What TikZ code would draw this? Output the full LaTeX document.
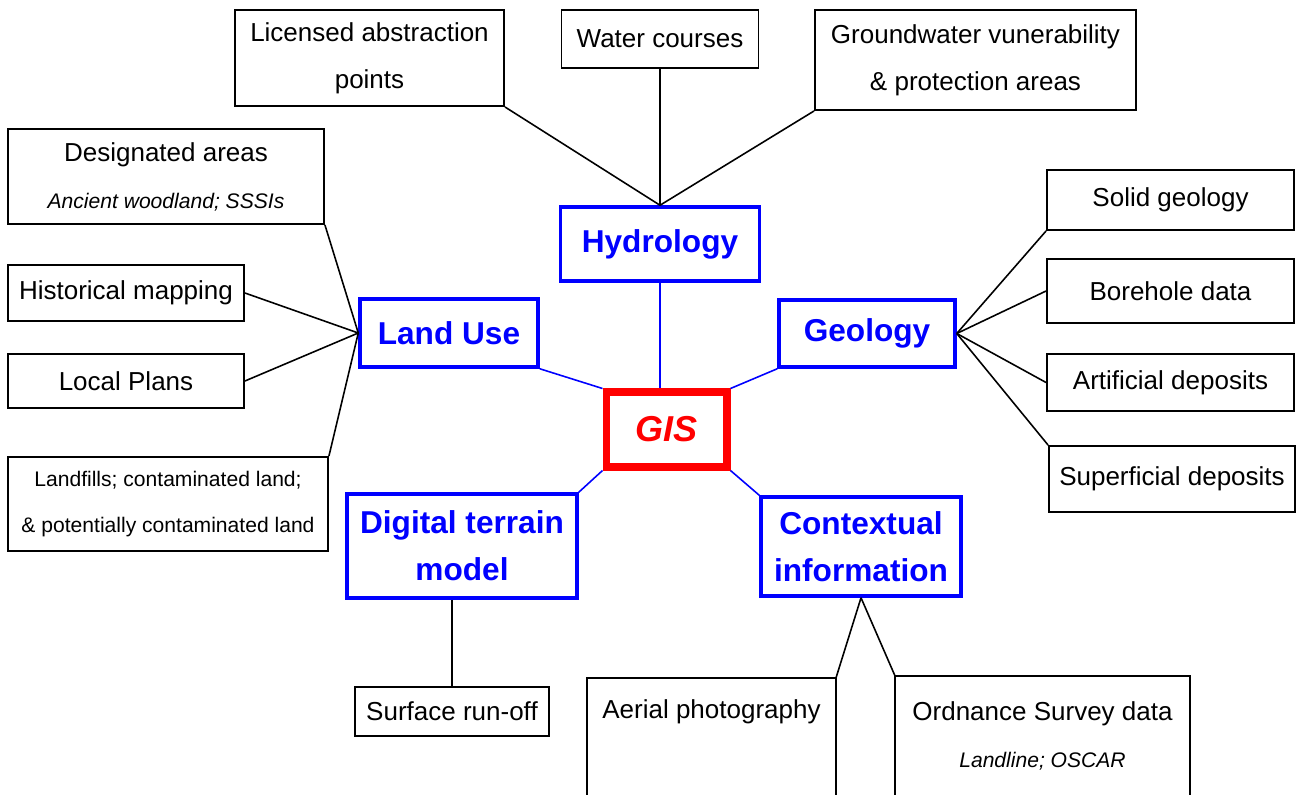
\documentclass[tikz,border=0pt]{standalone}
\usepackage{fontspec}
\setmainfont{Liberation Sans}
\newcommand{\subnote}[1]{{\fontsize{12}{26.7}\selectfont\itshape #1}}
\tikzset{
  leaf/.style={draw=black, line width=1.1pt, align=center, inner sep=0pt, font=\fontsize{14.8}{26.7}\selectfont},
  topic/.style={draw=blue, line width=2pt, text=blue, align=center, inner sep=0pt, font=\bfseries\fontsize{18}{26.7}\selectfont},
  hub/.style={draw=red, line width=4pt, text=red, inner sep=0pt, font=\bfseries\itshape\fontsize{20.5}{24}\selectfont},
  twig/.style={draw=black, line width=0.9pt},
  stem/.style={draw=blue, line width=0.9pt}
}
\begin{document}
\begin{tikzpicture}[x=0.02cm,y=-0.02cm]
\path[use as bounding box, clip] (0,0) rectangle (1297,794);
\coordinate (foot) at (0,800);
\node (gis) [hub, minimum width=2.42cm, minimum height=1.5cm] at (666.5,429.5) {GIS};
\node (hyd) [topic, minimum width=3.98cm, minimum height=1.48cm] at (660,244) {Hydrology};
\node (land) [topic, minimum width=3.56cm, minimum height=1.36cm] at (449,333) {Land Use};
\node (geo) [topic, minimum width=3.52cm, minimum height=1.34cm] at (867,333.5) {Geology};
\node (dtm) [topic, minimum width=4.6cm, minimum height=2.08cm] at (462,546) {Digital terrain\\model};
\node (ctx) [topic, minimum width=4cm, minimum height=1.98cm] at (861,546.5) {Contextual\\information};
\node (lic) [leaf, minimum width=5.38cm, minimum height=1.92cm] at (369.5,58) {Licensed abstraction\\points};
\node (water) [leaf, minimum width=3.94cm, minimum height=1.16cm] at (660,39) {Water courses};
\node (gw) [leaf, minimum width=6.42cm, minimum height=2cm] at (975.5,60) {Groundwater vunerability\\\& protection areas};
\node (des) [leaf, minimum width=6.32cm, minimum height=1.9cm] at (166,176.5) {Designated areas\\\subnote{Ancient woodland; SSSIs}};
\node (hist) [leaf, minimum width=4.72cm, minimum height=1.12cm] at (126,293) {Historical mapping};
\node (local) [leaf, minimum width=4.72cm, minimum height=1.08cm] at (126,381) {Local Plans};
\node (fill) [leaf, minimum width=6.4cm, minimum height=1.88cm, font=\fontsize{12}{26.2}\selectfont] at (168,504) {Landfills; contaminated land;\\\& potentially contaminated land};
\node (solid) [leaf, minimum width=4.94cm, minimum height=1.2cm] at (1170.5,200) {Solid geology};
\node (bore) [leaf, minimum width=4.94cm, minimum height=1.28cm] at (1170.5,291) {Borehole data};
\node (art) [leaf, minimum width=4.94cm, minimum height=1.14cm] at (1170.5,382.5) {Artificial deposits};
\node (sup) [leaf, minimum width=4.92cm, minimum height=1.32cm] at (1172,479) {Superficial deposits};
\node (run) [leaf, minimum width=3.88cm, minimum height=0.98cm] at (452,711.5) {Surface run-off};
\node (aer) [leaf, draw=none, minimum width=4.94cm, minimum height=1.32cm] at (711.5,712) {Aerial photography};
\node (ord) [leaf, draw=none, minimum width=5.86cm, minimum height=2.34cm] at (1042.5,735.5) {Ordnance Survey data\\\subnote{Landline; OSCAR}};
\draw [black, line width=1.1pt] (aer.north west |- foot) -- (aer.north west) -- (aer.north east) -- (aer.north east |- foot);
\draw [black, line width=1.1pt] (ord.north west |- foot) -- (ord.north west) -- (ord.north east) -- (ord.north east |- foot);
\draw [stem] (hyd.south) -- (hyd.south |- gis.north);
\draw [stem] (land.south east) -- (gis.north west);
\draw [stem] (geo.south west) -- (gis.north east);
\draw [stem] (gis.south west) -- (dtm.north east);
\draw [stem] (gis.south east) -- (ctx.north west);
\draw [twig] (lic.south east) -- (hyd.north);
\draw [twig] (water.south) -- (hyd.north);
\draw [twig] (gw.south west) -- (hyd.north);
\draw [twig] (des.south east) -- (land.west);
\draw [twig] (hist.east) -- (land.west);
\draw [twig] (local.east) -- (land.west);
\draw [twig] (fill.north east) -- (land.west);
\draw [twig] (geo.east) -- (solid.south west);
\draw [twig] (geo.east) -- (bore.west);
\draw [twig] (geo.east) -- (art.west);
\draw [twig] (geo.east) -- (sup.north west);
\draw [twig] (run.north |- dtm.south) -- (run.north);
\draw [twig] (ctx.south) -- (aer.north east);
\draw [twig] (ctx.south) -- (ord.north west);
\end{tikzpicture}
\end{document}
